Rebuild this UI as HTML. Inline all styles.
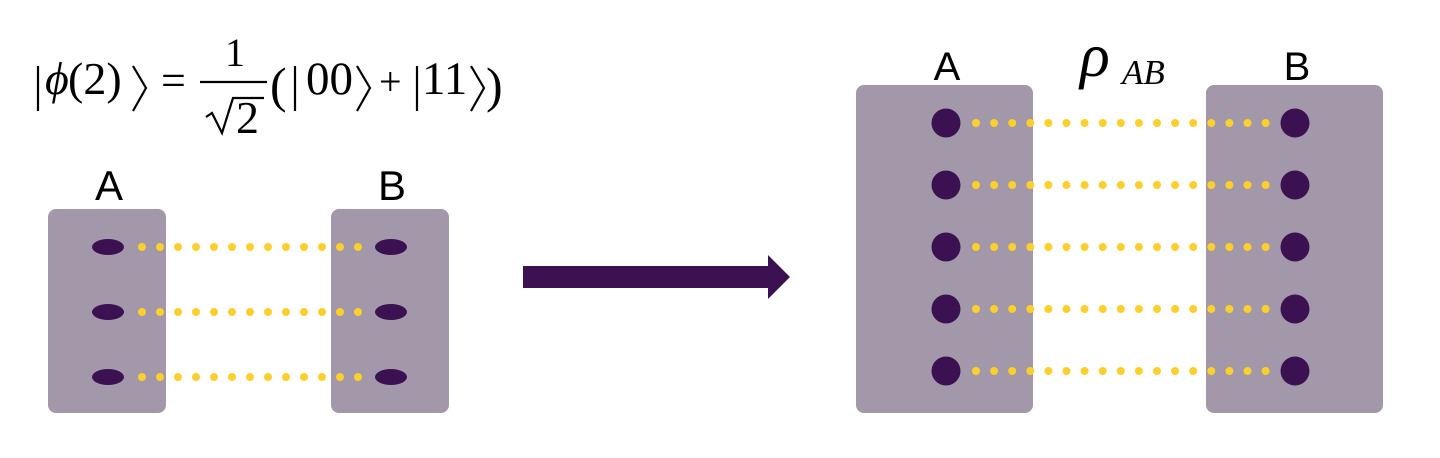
<!DOCTYPE html>
<html><head><style>body{margin:0;background:#fff}svg{display:block}</style></head><body>
<svg width="1440" height="458" viewBox="0 0 1440 458" xmlns="http://www.w3.org/2000/svg">
<g stroke="#000" stroke-width="2.2" fill="none">
<line x1="38" y1="66" x2="38" y2="111"/>
<polyline points="133,66 146,88 133,111"/>
<line x1="295" y1="66" x2="295" y2="111"/>
<polyline points="357,66 370,88 357,111"/>
<line x1="417" y1="66" x2="417" y2="111"/>
<polyline points="471,66 484,88 471,111"/>
<line x1="200" y1="82" x2="267" y2="82"/>
<polyline points="206,117 212,113 222,133 233,98 264,98"/>
</g>
<g font-family="Liberation Serif, serif" fill="#000">
<text x="45" y="94" font-size="46" font-style="italic">ϕ</text>
<text x="68" y="94" font-size="46">(2)</text>
<text x="161" y="95" font-size="44">=</text>
<text x="235" y="66" font-size="40" text-anchor="middle">1</text>
<text x="236" y="133" font-size="46">2</text>
<text x="270" y="102" font-size="50">(</text>
<text x="306" y="94" font-size="47">00</text>
<text x="379" y="95" font-size="40">+</text>
<text x="422" y="94" font-size="47">11</text>
<text x="486" y="102" font-size="50">)</text>
<text x="1080" y="76" font-size="62" font-style="italic">ρ</text>
<text x="1122" y="84" font-size="35" font-style="italic">AB</text>
</g>
<g font-family="Liberation Sans, sans-serif" fill="#000" text-anchor="middle">
<text x="109" y="200" font-size="42">A</text><text x="392" y="200" font-size="42">B</text>
<text x="947" y="80" font-size="40">A</text><text x="1297" y="80" font-size="40">B</text>
</g>
<g fill="#a298aa">
<rect x="48" y="209" width="118" height="204" rx="8"/>
<rect x="331" y="209" width="118" height="204" rx="8"/>
<rect x="856" y="85" width="177" height="328" rx="8"/>
<rect x="1206" y="85" width="177" height="328" rx="8"/>
</g>
<g stroke="#fccf2a" stroke-width="8" stroke-linecap="round" stroke-dasharray="0 18.1">
<line x1="976" y1="123" x2="1267" y2="123"/>
<line x1="976" y1="185" x2="1267" y2="185"/>
<line x1="976" y1="247" x2="1267" y2="247"/>
<line x1="976" y1="309" x2="1267" y2="309"/>
<line x1="976" y1="371" x2="1267" y2="371"/>
</g>
<g stroke="#fccf2a" stroke-width="8" stroke-linecap="round" stroke-dasharray="0 18">
<line x1="142" y1="247" x2="359" y2="247"/>
<line x1="142" y1="312" x2="359" y2="312"/>
<line x1="142" y1="377" x2="359" y2="377"/>
</g>
<g fill="#3c1152">
<ellipse cx="108" cy="247" rx="16" ry="8"/><ellipse cx="108" cy="312" rx="16" ry="8"/><ellipse cx="108" cy="377" rx="16" ry="8"/>
<ellipse cx="391" cy="247" rx="16" ry="8"/><ellipse cx="391" cy="312" rx="16" ry="8"/><ellipse cx="391" cy="377" rx="16" ry="8"/>
<circle cx="946" cy="123" r="14.5"/><circle cx="946" cy="185" r="14.5"/><circle cx="946" cy="247" r="14.5"/><circle cx="946" cy="309" r="14.5"/><circle cx="946" cy="371" r="14.5"/>
<circle cx="1295" cy="123" r="14.5"/><circle cx="1295" cy="185" r="14.5"/><circle cx="1295" cy="247" r="14.5"/><circle cx="1295" cy="309" r="14.5"/><circle cx="1295" cy="371" r="14.5"/>
<polygon points="523,266 768,266 768,255 790,277 768,299 768,288 523,288"/>
</g>
</svg>
</body></html>
